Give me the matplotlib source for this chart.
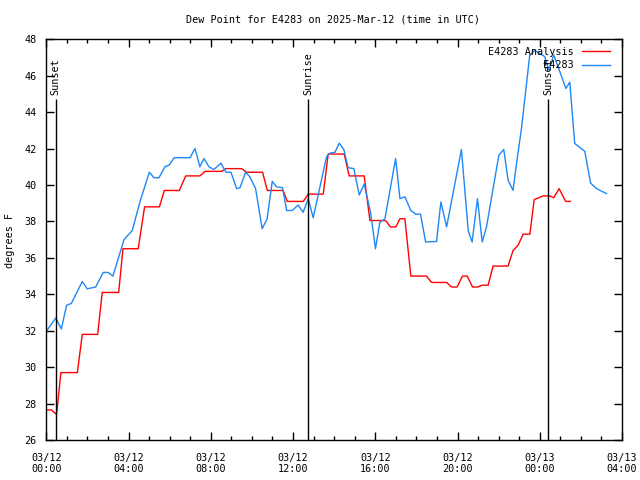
import matplotlib
matplotlib.use("Agg")
import matplotlib.pyplot as plt
import matplotlib.dates as mdates
import pandas as pd

# hours after 2025-03-12 00:00 UTC
obsHours = [0.02, 0.46, 0.73, 0.99, 1.22, 1.75, 1.99, 2.40, 2.77, 3.01, 3.24, 3.78,
            4.18, 4.56, 5.01, 5.24, 5.48, 5.77, 5.98, 6.22, 6.99, 7.23, 7.47, 7.67,
            7.91, 8.15, 8.49, 8.74, 8.98, 9.26, 9.42, 9.69, 9.90, 10.18, 10.50, 10.74,
            10.99, 11.20, 11.49, 11.69, 11.96, 12.25, 12.49, 12.74, 12.98, 13.63, 13.79,
            14.04, 14.25, 14.47, 14.68, 14.96, 15.22, 15.46, 15.77, 16.01, 16.22, 16.47,
            16.99, 17.20, 17.44, 17.73, 17.97, 18.20, 18.45, 18.98, 19.19, 19.47, 20.19,
            20.52, 20.71, 20.97, 21.20, 21.41, 22.01, 22.25, 22.46, 22.70, 22.87, 23.11,
            23.51, 23.76, 24.24, 24.45, 24.68, 24.89, 25.27, 25.46, 25.70, 26.19, 26.47,
            26.76, 27.24]
obsDewpt = [32.0, 32.7, 32.1, 33.4, 33.5, 34.7, 34.3, 34.4, 35.2, 35.2, 35.0, 37.0,
            37.5, 39.1, 40.7, 40.4, 40.4, 41.0, 41.1, 41.5, 41.5, 42.0, 41.0, 41.45,
            41.0, 40.85, 41.2, 40.7, 40.7, 39.8, 39.85, 40.7, 40.45, 39.8, 37.6, 38.15,
            40.2, 39.9, 39.85, 38.6, 38.6, 38.9, 38.5, 39.25, 38.2, 41.55, 41.75,
            41.8, 42.3, 41.95, 40.95, 40.9, 39.45, 40.05, 38.5, 36.5, 37.95, 38.15,
            41.45, 39.25, 39.35, 38.6, 38.4, 38.4, 36.87, 36.9, 39.07, 37.7, 41.95,
            37.5, 36.87, 39.25, 36.87, 37.7, 41.64, 41.95, 40.26, 39.71, 41.18, 43.1,
            47.1, 47.4, 47.05, 46.3, 47.14, 46.5, 45.3, 45.65, 42.28, 41.85, 40.11,
            39.8, 39.53]

anaHours = [0.02, 0.25, 0.40, 0.50, 0.71, 1.51, 1.75, 2.50, 2.72, 3.52, 3.73, 4.47,
            4.78, 5.50, 5.74, 6.47, 6.78, 7.47, 7.72, 8.53, 8.74, 9.50, 9.74, 10.52,
            10.75, 11.52, 11.72, 12.50, 12.74, 13.47, 13.71, 14.49, 14.73, 15.46, 15.74,
            16.50, 16.74, 17.00, 17.20, 17.44, 17.73, 18.49, 18.74, 19.47, 19.71, 19.98,
            20.24, 20.47, 20.73, 20.97, 21.21, 21.49, 21.73, 22.46, 22.70, 22.95, 23.19,
            23.52, 23.73, 24.16, 24.49, 24.68, 24.94, 25.26, 25.49]
anaDewpt = [27.65, 27.65, 27.5, 27.4, 29.7, 29.7, 31.8, 31.8, 34.1, 34.1, 36.5, 36.5,
            38.8, 38.8, 39.7, 39.7, 40.5, 40.5, 40.75, 40.75, 40.9, 40.9, 40.7, 40.7,
            39.7, 39.7, 39.1, 39.1, 39.5, 39.5, 41.7, 41.7, 40.5, 40.5, 38.05,
            38.05, 37.7, 37.7, 38.15, 38.15, 35.0, 35.0, 34.65, 34.65, 34.4, 34.4,
            35.0, 35.0, 34.4, 34.4, 34.5, 34.5, 35.55, 35.55, 36.4, 36.7, 37.3,
            37.3, 39.2, 39.4, 39.4, 39.3, 39.8, 39.1, 39.1]

sunLabels = ["Sunset", "Sunrise", "Sunset"]
sunHours = [0.46, 12.74, 24.40]

startTime = pd.Timestamp("2025-03-12 00:00")


def toTimes(hours):
    return startTime + pd.to_timedelta(hours, unit="h")


mono = "DejaVu Sans Mono"
fsize = 7.3

fig = plt.figure(figsize=(6.4, 4.8), dpi=100)
ax = fig.add_axes([46.3 / 640, 40 / 480, (622 - 46.3) / 640, (440 - 39.3) / 480])

ax.plot(toTimes(anaHours), anaDewpt, color="#ff0000", linewidth=1.0, label="E4283 Analysis")
ax.plot(toTimes(obsHours), obsDewpt, color="#1e88f5", linewidth=1.0, label="         E4283")

# sunrise / sunset markers
for name, h in zip(sunLabels, sunHours):
    t = toTimes(h)
    ax.vlines(t, 26, 44.7, color="black", linewidth=1.0)
    ax.text(t, 44.95, name, rotation=90, ha="center", va="bottom",
            fontfamily=mono, fontsize=fsize)

ax.set_xlim(startTime, startTime + pd.Timedelta(hours=28))
ax.set_ylim(26, 48)
ax.set_yticks(range(26, 49, 2))
ax.xaxis.set_major_locator(mdates.HourLocator(byhour=range(0, 24, 4)))
ax.xaxis.set_minor_locator(mdates.HourLocator())
ax.xaxis.set_major_formatter(mdates.DateFormatter("%m/%d\n%H:%M"))

ax.tick_params(which="both", direction="in", top=True, right=True, width=1.0,
               labelsize=fsize, color="black")
ax.tick_params(which="major", length=6)
ax.tick_params(axis="x", which="major", pad=9)
ax.tick_params(axis="y", which="major", pad=7)
ax.tick_params(which="minor", length=3)
for lbl in ax.get_xticklabels() + ax.get_yticklabels():
    lbl.set_fontfamily(mono)
for sp in ax.spines.values():
    sp.set_linewidth(1.0)

fig.text(10 / 640, 0.5, "degrees F", rotation=90, ha="center", va="center",
         fontfamily=mono, fontsize=fsize)
fig.text(0.52, 1 - 19 / 480, "Dew Point for E4283 on 2025-Mar-12 (time in UTC)",
         ha="center", va="center", fontfamily=mono, fontsize=fsize)

ax.legend(loc="upper right", frameon=False, markerfirst=False,
          prop={"family": mono, "size": fsize}, handlelength=2.8,
          handletextpad=0.8, labelspacing=0.35, borderaxespad=0.2,
          bbox_to_anchor=(0.99, 0.997))

fig.savefig("out.png", dpi=100)
